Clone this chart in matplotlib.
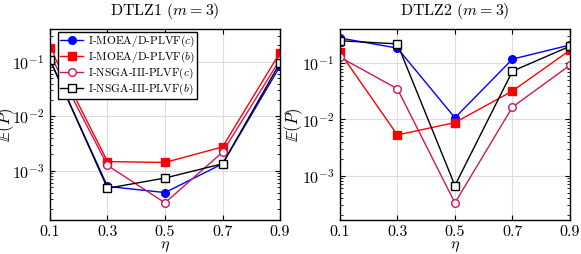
import numpy as np
import matplotlib
matplotlib.use('Agg')
import matplotlib.pyplot as plt
from matplotlib.ticker import LogLocator, NullFormatter

plt.rcParams['font.family'] = 'cmr10'
plt.rcParams['mathtext.fontset'] = 'cm'
plt.rcParams['axes.formatter.use_mathtext'] = True

eta = [0.1, 0.3, 0.5, 0.7, 0.9]
labels = ['I-MOEA/D-PLVF$(c)$', 'I-MOEA/D-PLVF$(b)$',
          'I-NSGA-III-PLVF$(c)$', 'I-NSGA-III-PLVF$(b)$']

# DTLZ1
d1_moead_c = [0.107, 5.2e-4, 4.0e-4, 1.35e-3, 0.083]
d1_moead_b = [0.18, 1.48e-3, 1.43e-3, 2.75e-3, 0.148]
d1_nsga_c = [0.136, 1.26e-3, 2.6e-4, 2.2e-3, 0.11]
d1_nsga_b = [0.11, 4.8e-4, 7.4e-4, 1.35e-3, 0.096]

# DTLZ2
d2_moead_c = [0.28, 0.185, 0.0107, 0.118, 0.21]
d2_moead_b = [0.155, 5.3e-3, 8.8e-3, 0.032, 0.17]
d2_nsga_c = [0.128, 0.035, 3.3e-4, 0.0166, 0.092]
d2_nsga_b = [0.25, 0.22, 6.7e-4, 0.072, 0.20]

colors = ['#0000ff', '#ff0000', '#c8185a', '#000000']
markers = ['o', 's', 'o', 's']
filled = [True, True, False, False]

fig = plt.figure(figsize=(5.81, 2.54), dpi=100)
ax1 = fig.add_axes([0.086, 0.134, 0.396, 0.752])
ax2 = fig.add_axes([0.585, 0.134, 0.396, 0.752])

panels = [
    (ax1, [d1_moead_c, d1_moead_b, d1_nsga_c, d1_nsga_b], r'DTLZ1 ($m=3$)', (1.26e-4, 0.40), -0.142),
    (ax2, [d2_moead_c, d2_moead_b, d2_nsga_c, d2_nsga_b], r'DTLZ2 ($m=3$)', (1.64e-4, 0.405), -0.15),
]

for ax, series, title, ylim, ylab_x in panels:
    for i, ys in enumerate(series):
        ax.plot(eta, ys, color=colors[i], marker=markers[i], lw=1.0,
                markersize=5.5 if markers[i] == 'o' else 6,
                markerfacecolor=colors[i] if filled[i] else 'white',
                markeredgecolor=colors[i], markeredgewidth=1.0,
                label=labels[i])
    ax.set_yscale('log')
    ax.set_xlim(0.1, 0.9)
    ax.set_ylim(*ylim)
    ax.set_xticks(eta)
    ax.set_xticklabels(['0.1', '0.3', '0.5', '0.7', '0.9'])
    ax.yaxis.set_major_locator(LogLocator(base=10, numticks=10))
    ax.yaxis.set_minor_locator(LogLocator(base=10, subs=np.arange(2, 10), numticks=10))
    ax.yaxis.set_minor_formatter(NullFormatter())
    ax.grid(True, which='major', color='#dddddd', lw=0.8)
    ax.set_axisbelow(True)
    ax.tick_params(direction='in', which='both', labelsize=11.5, top=True, right=True)
    ax.tick_params(which='major', length=3.5, pad=4)
    ax.tick_params(which='minor', length=2)
    for s in ax.spines.values():
        s.set_linewidth(1.0)
    ax.set_title(title, fontsize=11.5, pad=10)
    ax.set_xlabel(r'$\eta$', fontsize=11.5, labelpad=0)
    ax.set_ylabel(r'$\mathbb{E}(P)$', fontsize=12)
    ax.yaxis.set_label_coords(ylab_x, 0.5)

leg = ax1.legend(loc='upper left', bbox_to_anchor=(0.035, 0.985), fontsize=8.2,
                 frameon=True, fancybox=False, edgecolor='black', framealpha=1,
                 handlelength=2.0, handletextpad=0.4, borderpad=0.2, labelspacing=0.05,
                 borderaxespad=0)
leg.get_frame().set_linewidth(1.0)

fig.savefig('out.png', dpi=100)
